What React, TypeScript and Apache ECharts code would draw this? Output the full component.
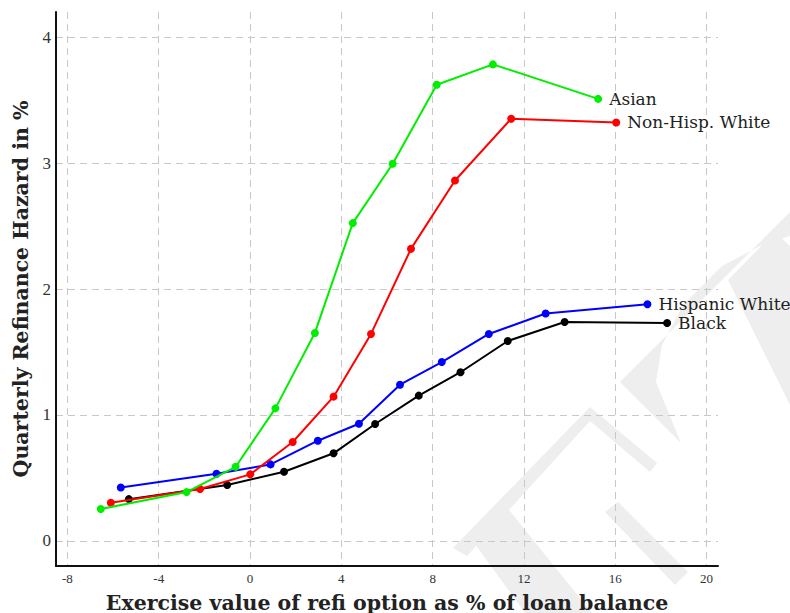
import React, { useEffect, useRef } from "react";
import * as echarts from "echarts";

// ---- data ----
const seriesNames = ["Black", "Hispanic White", "Non-Hisp. White", "Asian"];
const seriesColors = ["#000000", "#0000ff", "#ff0000", "#00ee00"];

const xAsian = [-6.54, -2.78, -0.63, 1.11, 2.84, 4.5, 6.25, 8.18, 10.64, 15.25];
const yAsian = [0.252, 0.387, 0.588, 1.052, 1.651, 2.523, 2.995, 3.622, 3.784, 3.51];

const xWhite = [-6.1, -2.19, 0.01, 1.87, 3.66, 5.3, 7.05, 8.98, 11.44, 16.04];
const yWhite = [0.302, 0.411, 0.528, 0.785, 1.145, 1.643, 2.319, 2.862, 3.352, 3.323];

const xHisp = [-5.66, -1.47, 0.9, 2.97, 4.77, 6.57, 8.4, 10.46, 12.95, 17.41];
const yHisp = [0.424, 0.533, 0.607, 0.795, 0.93, 1.24, 1.42, 1.643, 1.805, 1.879];

const xBlack = [-5.31, -1.0, 1.49, 3.66, 5.48, 7.39, 9.22, 11.29, 13.78, 18.27];
const yBlack = [0.331, 0.443, 0.549, 0.695, 0.928, 1.153, 1.339, 1.587, 1.738, 1.73];

const xTicks = [-8, -4, 0, 4, 8, 12, 16, 20];
const yTicks = [0, 1, 2, 3, 4];

const xTitle = "Exercise value of refi option as % of loan balance";
const yTitle = "Quarterly Refinance Hazard in %";

const SERIF = "'Liberation Serif', 'DejaVu Serif', serif";
const WIDE_SERIF = "'DejaVu Serif', 'Liberation Serif', serif";

// faint background watermark shapes (pixel positions)
const watermark: number[][][] = [
  [[453, 548], [590, 407], [657, 463], [650, 472], [590, 421], [467, 556]],
  [[472, 540], [505, 505], [592, 613], [525, 613]],
  [[605, 512], [618, 502], [688, 572], [675, 585]],
  [[620, 382], [790, 212], [790, 236], [760, 246], [722, 266], [683, 305], [662, 345], [656, 382], [681, 443]],
  [[728, 280], [775, 232], [790, 246], [790, 405]],
];

function build(xs: number[], ys: number[], name: string) {
  return xs.map((x, i) => {
    if (i === xs.length - 1) {
      return {
        value: [x, ys[i]],
        label: {
          show: true,
          position: "right",
          distance: 7,
          formatter: name,
          fontFamily: WIDE_SERIF,
          fontSize: 17,
          color: "#222",
        },
      };
    }
    return { value: [x, ys[i]] };
  });
}

export default function App() {
  const ref = useRef<HTMLDivElement>(null);
  useEffect(() => {
    if (!ref.current) return;
    const chart = echarts.init(ref.current, undefined, { renderer: "svg" });
    const xsAll = [xBlack, xHisp, xWhite, xAsian];
    const ysAll = [yBlack, yHisp, yWhite, yAsian];
    const series = seriesNames.map((n, i) => ({
      type: "line",
      name: n,
      data: build(xsAll[i], ysAll[i], n),
      symbol: "circle",
      symbolSize: 8,
      lineStyle: { color: seriesColors[i], width: 2 },
      itemStyle: { color: seriesColors[i] },
      labelLayout: { hideOverlap: false },
      z: 3 + i,
    }));
    chart.setOption({
      animation: false,
      backgroundColor: "#ffffff",
      graphic: watermark.map((pts) => ({
        type: "polygon",
        z: -10,
        silent: true,
        shape: { points: pts },
        style: { fill: "#eeeeee" },
      })),
      grid: {
        left: 56,
        right: 72,
        top: 12,
        bottom: 47,
        containLabel: false,
        outerBoundsMode: "none",
      },
      xAxis: {
        type: "value",
        min: -8.5,
        max: 20.5,
        name: xTitle,
        nameLocation: "middle",
        nameGap: 26,
        nameTextStyle: {
          fontFamily: WIDE_SERIF,
          fontWeight: "bold",
          fontSize: 20.5,
          color: "#222",
        },
        axisLine: { show: true, onZero: false, lineStyle: { color: "#111", width: 2 } },
        axisTick: { show: false, customValues: xTicks },
        axisLabel: {
          customValues: xTicks,
          fontFamily: SERIF,
          fontSize: 13,
          color: "#333",
          margin: 6,
        },
        splitLine: {
          show: true,
          lineStyle: { color: "#c8c8c8", type: [7, 5], width: 1 },
        },
      },
      yAxis: {
        type: "value",
        min: -0.2,
        max: 4.2,
        name: yTitle,
        nameLocation: "middle",
        nameGap: 24,
        nameTextStyle: {
          fontFamily: WIDE_SERIF,
          fontWeight: "bold",
          fontSize: 20.5,
          color: "#222",
        },
        axisLine: { show: true, onZero: false, lineStyle: { color: "#111", width: 2 } },
        axisTick: { show: false, customValues: yTicks },
        axisLabel: {
          customValues: yTicks,
          fontFamily: SERIF,
          fontSize: 17,
          color: "#333",
          margin: 5,
        },
        splitLine: {
          show: true,
          lineStyle: { color: "#c8c8c8", type: [7, 5], width: 1 },
        },
      },
      series,
    });
    return () => chart.dispose();
  }, []);
  return <div ref={ref} style={{ width: 790, height: 613, position: "absolute", left: 0, top: 0 }} />;
}
